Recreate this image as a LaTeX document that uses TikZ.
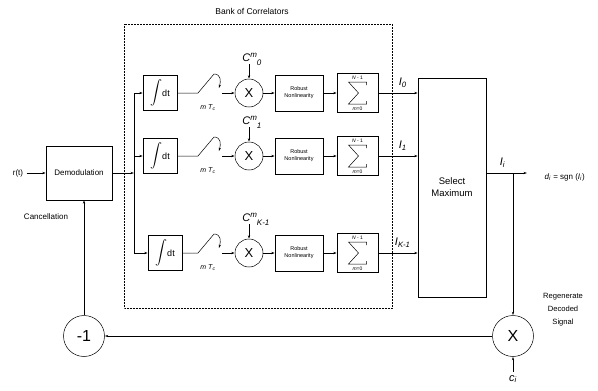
\documentclass[tikz,border=0pt]{standalone}
\usepackage{amsmath}
\usepackage{fontspec}
\setmainfont{Liberation Sans}
\usetikzlibrary{arrows.meta}

\tikzset{
  blk/.style={draw, inner sep=1pt, align=center},
  mult/.style={draw, circle, inner sep=0pt, minimum size=28pt, font=\fontsize{13}{13}\selectfont},
  bigmult/.style={draw, circle, inner sep=0pt, minimum size=41pt, font=\fontsize{16}{16}\selectfont},
  sig/.style={-{Stealth[length=3.5pt,width=2.2pt]}},
  sumlim/.style={font=\fontsize{5}{5}\selectfont, inner sep=0pt},
}

\begin{document}
\begin{tikzpicture}[x=1pt, y=-1pt, line width=0.5pt, font=\fontsize{8}{9.5}\selectfont]
\useasboundingbox (0,0) rectangle (598,391);
% bank of correlators
\draw[densely dotted] (124,24) rectangle (392,308);
\node[font=\fontsize{8.5}{10}\selectfont] (bank) at (252,11) {Bank of Correlators};

\node[blk, minimum width=66pt, minimum height=54pt] (dem) at (79,173) {Demodulation};
\node (rt) at (18,173) {r(t)};
\node (canc) at (46,217) {Cancellation};
\draw[sig] (rt) -- (dem);
\coordinate (bus) at (134,173);
\draw[sig] (dem) -- (bus);
\draw (134,93) -- (134,253);

\node[blk, minimum width=68pt, minimum height=219pt, font=\fontsize{9.5}{12}\selectfont] (sel) at (452,187.5) {Select\\Maximum};

\foreach \r/\y/\dx/\sub in {0/93/0/0, 1/156/0/1, 2/253/5/{K-1}} {
  \coordinate (b\r) at (134,\y);
  \node[blk, minimum width=34pt, minimum height=35pt, font=\fontsize{9}{9}\selectfont] (int\r) at (160+\dx,\y)
    {{\fontsize{12}{12}\selectfont$\displaystyle\int$}dt};
  \draw[sig] (b\r) -- (int\r);
  % switch
  \coordinate (sa\r) at (198,\y);
  \coordinate (sb\r) at (214,\y-19);
  \coordinate (sc\r) at (222,\y);
  \draw (int\r) -- (sa\r) -- (sb\r);
  \draw[sig] (sb\r) .. controls (221,\y-19) and (221,\y-12) .. (219,\y-5);
  \node[font=\fontsize{7}{7}\selectfont] (mt\r) at (208,\y+15) {\textit{m T}$_{\textit{c}}$};
  \node[mult] (mul\r) at (249,\y) {X};
  \draw[sig] (sc\r) -- (mul\r);
  % coefficient
  \node[anchor=base west, inner sep=0pt, font=\fontsize{11}{11}\selectfont] (c\r) at (242,\y-32)
    {\textit{C}\raisebox{4pt}{\fontsize{8}{8}\selectfont\textit{m}}\raisebox{-4.5pt}{\fontsize{8}{8}\selectfont\textit{\sub}}};
  \coordinate (ct\r) at (249,\y-29);
  \draw[sig] (ct\r) -- (mul\r);
  \node[blk, minimum width=48pt, minimum height=36pt, font=\fontsize{5.5}{7}\selectfont] (rob\r) at (299,\y) {Robust\\Nonlinearity};
  \draw[sig] (mul\r) -- (rob\r);
  % summation
  \node[blk, minimum width=41pt, minimum height=39pt] (sum\r) at (357.5,\y) {};
  \draw[shift={(sum\r.center)}] (9,-8) -- (9,-11) -- (-9,-11) -- (1,0) -- (-9,11) -- (9,11) -- (9,8);
  \node[sumlim] (up\r) at ([yshift=-4.5pt]sum\r.north) {\textit{N} - 1};
  \node[sumlim] (lo\r) at ([yshift=4pt]sum\r.south) {\textit{m}=0};
  \draw[sig] (rob\r) -- (sum\r);
  \draw[sig] (sum\r) -- (sum\r -| sel.west)
    node[pos=0.62, above=2pt, font=\fontsize{11}{11}\selectfont] {\textit{I}$_{\textit{\sub}}$};
}

% output and feedback
\coordinate (so) at (486,173);
\coordinate (dout) at (527,173);
\coordinate (tap) at (513,173);
\draw[sig] (so) -- (dout) node[pos=0.4, above=2pt, font=\fontsize{11}{11}\selectfont] {\textit{I}$_{\textit{i}}$};
\node[anchor=west] (dec) at (541,177) {\textit{d}$_{\textit{i}}$ = sgn (\textit{I}$_{\textit{i}}$)};

\node[bigmult] (neg) at (84,336) {-1};
\node[bigmult] (regen) at (513,336) {X};
\node[font=\fontsize{11}{11}\selectfont] (ci) at (513,379) {\textit{c}$_{\textit{i}}$};
\node[align=center, font=\fontsize{7.6}{13}\selectfont] (regtxt) at (563,310) {Regenerate\\Decoded\\Signal};
\draw[sig] (tap) -- (regen);
\draw[sig] (ci) -- (regen);
\draw[sig] (regen) -- (neg);
\draw[sig] (neg) -- (dem.south -| neg);
\end{tikzpicture}
\end{document}
